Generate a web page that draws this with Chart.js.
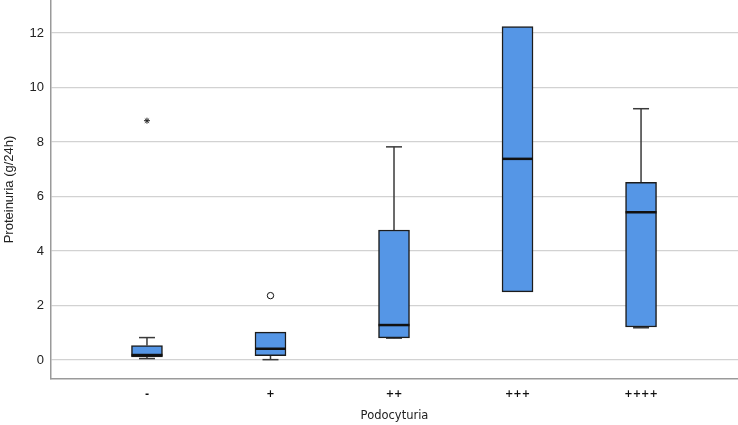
<!DOCTYPE html>
<html>
<head>
<meta charset="utf-8">
<script src="https://cdn.jsdelivr.net/npm/chart.js@4/dist/chart.umd.min.js"></script>
<style>
  html, body { margin: 0; padding: 0; background: #fff; }
  #wrap { width: 738px; height: 425px; }
</style>
</head>
<body>
<div id="wrap"><canvas id="chart"></canvas></div>
<script>
// Box plot data (g/24h)
const categories = ["-", "+", "++", "+++", "++++"];
const whiskerLow = [0.05, 0.01, 0.80, 2.50, 1.18];
const q1 = [0.11, 0.16, 0.81, 2.50, 1.21];
const median = [0.18, 0.41, 1.28, 7.38, 5.42];
const q3 = [0.53, 1.02, 4.77, 12.23, 6.52];
const whiskerHigh = [0.82, 1.02, 7.82, 12.23, 9.22];
const extremes = [{ x: 0, y: 8.78 }];   // asterisk
const outliers = [{ x: 1, y: 2.36 }];   // circle
const yTicks = [0, 2, 4, 6, 8, 10, 12];

// Whiskers and median lines drawn with the chart's scales
const boxLines = {
  id: "boxLines",
  beforeDatasetsDraw(chart) {
    const { ctx, scales: { x, y } } = chart;
    ctx.save();
    ctx.strokeStyle = "#3a3a3a";
    ctx.lineWidth = 1.5;
    categories.forEach((c, i) => {
      const px = x.getPixelForValue(i);
      const pairs = [[q3[i], whiskerHigh[i]], [q1[i], whiskerLow[i]]];
      pairs.forEach(([from, to]) => {
        if (Math.abs(from - to) < 1e-9) return;
        ctx.beginPath();
        ctx.moveTo(px, y.getPixelForValue(from));
        ctx.lineTo(px, y.getPixelForValue(to));
        ctx.stroke();
        ctx.beginPath();
        ctx.moveTo(px - 8, y.getPixelForValue(to));
        ctx.lineTo(px + 8, y.getPixelForValue(to));
        ctx.stroke();
      });
    });
    ctx.restore();
  },
  afterDatasetsDraw(chart) {
    const { ctx, scales: { x, y } } = chart;
    ctx.save();
    ctx.strokeStyle = "#111";
    ctx.lineWidth = 2.5;
    categories.forEach((c, i) => {
      const px = x.getPixelForValue(i);
      const py = y.getPixelForValue(median[i]);
      ctx.beginPath();
      ctx.moveTo(px - 15.5, py);
      ctx.lineTo(px + 15.5, py);
      ctx.stroke();
    });
    ctx.restore();
  }
};

new Chart(document.getElementById("chart"), {
  type: "bar",
  data: {
    datasets: [
      {
        type: "scatter",
        data: extremes,
        pointStyle: "star",
        radius: 3,
        borderColor: "#222",
        borderWidth: 1,
        backgroundColor: "#222"
      },
      {
        type: "scatter",
        data: outliers,
        pointStyle: "circle",
        radius: 3.2,
        borderColor: "#111",
        borderWidth: 1,
        backgroundColor: "#fff"
      },
      {
        data: categories.map((c, i) => ({ x: i, y: [q1[i], q3[i]] })),
        backgroundColor: "#5596e6",
        borderColor: "#1c1c1c",
        borderWidth: 1.5,
        borderSkipped: false,
        barThickness: 31
      }
    ]
  },
  options: {
    responsive: true,
    maintainAspectRatio: false,
    animation: false,
    layout: { padding: 0, autoPadding: false },
    plugins: { legend: { display: false }, tooltip: { enabled: false } },
    scales: {
      x: {
        type: "linear",
        offset: false,
        min: -0.777,
        max: 4.785,
        afterBuildTicks: s => { s.ticks = categories.map((c, i) => ({ value: i })); },
        afterFit: s => {
          s.height = 46;
          s.paddingLeft = 0;
          s.paddingRight = 0;
        },
        grid: { display: false, offset: false, drawTicks: false },
        border: { color: "#9a9a9a", width: 1.5 },
        ticks: {
          callback: v => categories[v],
          color: "#111",
          font: { family: "DejaVu Sans", size: 10, weight: "bold" },
          padding: 9,
          maxRotation: 0
        },
        title: {
          display: true,
          text: "Podocyturia",
          color: "#222",
          font: { family: "DejaVu Sans", size: 11.5 },
          padding: { top: 4, bottom: 2 }
        }
      },
      y: {
        min: -0.7,
        max: 13.21,
        afterBuildTicks: s => { s.ticks = yTicks.map(v => ({ value: v })); },
        afterFit: s => {
          s.width = 51;
          s.paddingTop = 0;
          s.paddingBottom = 0;
        },
        grid: { color: "#d2d2d2", lineWidth: 1.2, drawTicks: false },
        border: { color: "#9a9a9a", width: 1.5 },
        ticks: {
          color: "#222",
          font: { family: "Liberation Sans", size: 13 },
          padding: 7
        },
        title: {
          display: true,
          text: "Proteinuria (g/24h)",
          color: "#222",
          font: { family: "Liberation Sans", size: 13 },
          padding: { top: 2, bottom: 4 }
        }
      }
    }
  },
  plugins: [boxLines]
});
</script>
</body>
</html>
